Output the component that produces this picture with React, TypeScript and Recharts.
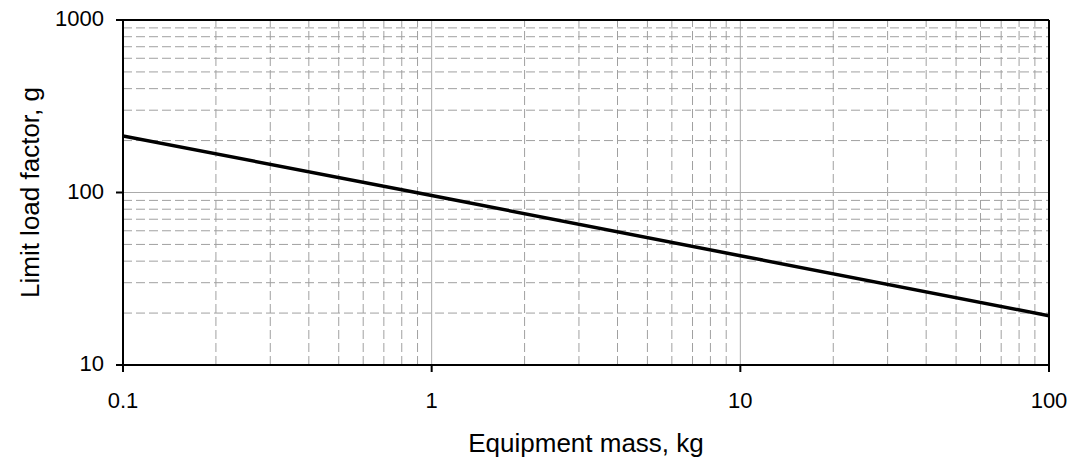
import React from "react";
import { LineChart, Line, XAxis, YAxis, ReferenceLine } from "recharts";

const massKg = [0.1, 1, 10, 100];
const loadFactorG = [213, 96, 43, 19.3];
const xTicks = [0.1, 1, 10, 100];
const yTicks = [10, 100, 1000];
const xMinor = [0.2, 0.3, 0.4, 0.5, 0.6, 0.7, 0.8, 0.9, 2, 3, 4, 5, 6, 7, 8, 9, 20, 30, 40, 50, 60, 70, 80, 90];
const yMinor = [20, 30, 40, 50, 60, 70, 80, 90, 200, 300, 400, 500, 600, 700, 800, 900];
const xMajorInner = [1, 10];
const yMajorInner = [100];

const data = massKg.map((m, i) => ({ m, g: loadFactorG[i] }));

const FONT = "'Liberation Sans', Arial, sans-serif";
const TICK_SIZE = 22;

const XTick = (props: any) => {
  const { x, y, payload } = props;
  return (
    <text x={x} y={y + 36} textAnchor="middle" fill="#000" style={{ fontSize: TICK_SIZE, fontFamily: FONT }}>
      {String(payload.value)}
    </text>
  );
};

const YTick = (props: any) => {
  const { x, y, payload } = props;
  return (
    <text x={x - 12} y={y + 6} textAnchor="end" fill="#000" style={{ fontSize: TICK_SIZE, fontFamily: FONT }}>
      {String(payload.value)}
    </text>
  );
};

export default function App() {
  return (
    <div style={{ position: "absolute", left: 0, top: 0, background: "#fff" }}>
      <LineChart
        width={1072}
        height={466}
        data={data}
        margin={{ top: 20, right: 23, left: 0, bottom: 0 }}
        style={{ fontFamily: FONT }}
      >
        <XAxis
          dataKey="m"
          type="number"
          scale="log"
          domain={[0.1, 100]}
          ticks={xTicks}
          allowDataOverflow
          height={101}
          tickSize={7}
          tickMargin={0}
          stroke="#000"
          strokeWidth={2}
          tick={<XTick />}
          label={{ value: "Equipment mass, kg", position: "insideBottom", offset: 14, fill: "#000", style: { fontSize: 26, fontFamily: FONT } }}
        />
        <YAxis
          dataKey="g"
          type="number"
          scale="log"
          domain={[10, 1000]}
          ticks={yTicks}
          allowDataOverflow
          width={123}
          tickSize={7}
          tickMargin={0}
          stroke="#000"
          strokeWidth={2}
          tick={<YTick />}
          label={{ value: "Limit load factor, g", angle: -90, position: "insideLeft", offset: 30, fill: "#000", style: { textAnchor: "middle", fontSize: 26, fontFamily: FONT } }}
        />
        {xMinor.map((v) => (
          <ReferenceLine key={`xm${v}`} x={v} stroke="#a0a0a0" strokeWidth={1} strokeDasharray="9 4" />
        ))}
        {yMinor.map((v) => (
          <ReferenceLine key={`ym${v}`} y={v} stroke="#a0a0a0" strokeWidth={1} strokeDasharray="9 4" />
        ))}
        {xMajorInner.map((v) => (
          <ReferenceLine key={`xM${v}`} x={v} stroke="#aaaaaa" strokeWidth={1} />
        ))}
        {yMajorInner.map((v) => (
          <ReferenceLine key={`yM${v}`} y={v} stroke="#aaaaaa" strokeWidth={1} />
        ))}
        <ReferenceLine y={1000} stroke="#000" strokeWidth={2} />
        <ReferenceLine x={100} stroke="#000" strokeWidth={2} />
        <Line
          dataKey="g"
          stroke="#000"
          strokeWidth={3.5}
          dot={false}
          isAnimationActive={false}
        />
      </LineChart>
    </div>
  );
}
